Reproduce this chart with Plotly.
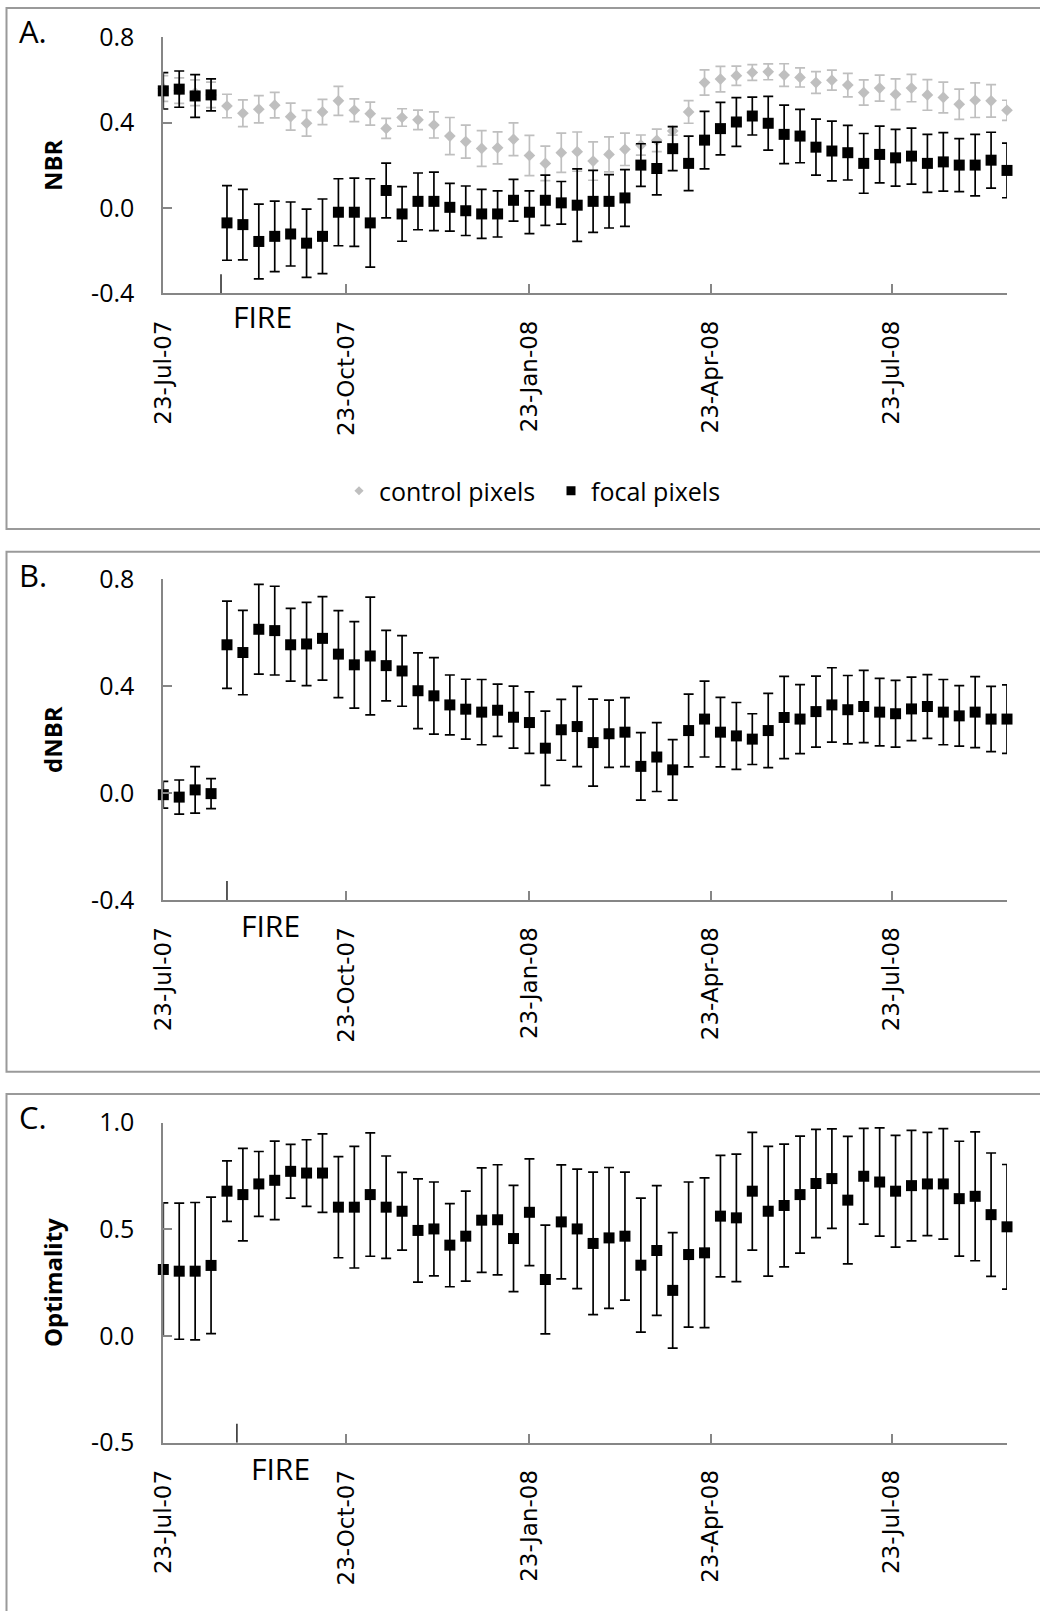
import plotly.graph_objects as go

# ---------------- data ----------------
dates = [
    "2007-07-23", "2007-07-31", "2007-08-08", "2007-08-16", "2007-08-24", "2007-09-01",
    "2007-09-09", "2007-09-17", "2007-09-25", "2007-10-03", "2007-10-11", "2007-10-19",
    "2007-10-27", "2007-11-04", "2007-11-12", "2007-11-20", "2007-11-28", "2007-12-06",
    "2007-12-14", "2007-12-22", "2007-12-30", "2008-01-07", "2008-01-15", "2008-01-23",
    "2008-01-31", "2008-02-08", "2008-02-16", "2008-02-24", "2008-03-03", "2008-03-11",
    "2008-03-19", "2008-03-27", "2008-04-04", "2008-04-12", "2008-04-20", "2008-04-28",
    "2008-05-06", "2008-05-14", "2008-05-22", "2008-05-30", "2008-06-07", "2008-06-15",
    "2008-06-23", "2008-07-01", "2008-07-09", "2008-07-17", "2008-07-25", "2008-08-02",
    "2008-08-10", "2008-08-18", "2008-08-26", "2008-09-03", "2008-09-11", "2008-09-19",
]

tick_dates = ["2007-07-23", "2007-10-23", "2008-01-23", "2008-04-23", "2008-07-23"]
tick_labels = ["23-Jul-07", "23-Oct-07", "23-Jan-08", "23-Apr-08", "23-Jul-08"]

# Panel A: NBR
nbr_control = [0.56, 0.55, 0.54, 0.53, 0.478, 0.444, 0.463, 0.482, 0.428, 0.397, 0.45, 0.502,
               0.458, 0.442, 0.373, 0.424, 0.413, 0.389, 0.337, 0.311, 0.279, 0.282, 0.322, 0.246,
               0.209, 0.259, 0.264, 0.22, 0.251, 0.275, 0.295, 0.317, 0.361, 0.45, 0.588, 0.604,
               0.62, 0.635, 0.638, 0.623, 0.612, 0.588, 0.599, 0.576, 0.541, 0.562, 0.533, 0.562,
               0.53, 0.518, 0.486, 0.505, 0.502, 0.458]
nbr_control_err = [0.06, 0.06, 0.06, 0.06, 0.055, 0.063, 0.064, 0.06, 0.063, 0.06, 0.059, 0.068,
                   0.053, 0.054, 0.047, 0.041, 0.046, 0.061, 0.087, 0.077, 0.084, 0.075, 0.077, 0.094,
                   0.081, 0.092, 0.092, 0.09, 0.082, 0.076, 0.047, 0.053, 0.02, 0.053, 0.059, 0.06,
                   0.045, 0.037, 0.037, 0.053, 0.045, 0.051, 0.047, 0.055, 0.059, 0.061, 0.072, 0.064,
                   0.072, 0.072, 0.071, 0.081, 0.076, 0.047]
nbr_focal = [0.549, 0.557, 0.525, 0.53, -0.07, -0.078, -0.157, -0.133, -0.122, -0.165, -0.133, -0.02,
             -0.02, -0.07, 0.082, -0.028, 0.031, 0.031, 0.003, -0.013, -0.028, -0.028, 0.036, -0.02,
             0.036, 0.024, 0.013, 0.031, 0.031, 0.047, 0.201, 0.185, 0.278, 0.209, 0.318, 0.372,
             0.403, 0.431, 0.397, 0.345, 0.337, 0.285, 0.267, 0.259, 0.209, 0.251, 0.235, 0.243,
             0.209, 0.216, 0.201, 0.201, 0.224, 0.176]
nbr_focal_err = [0.085, 0.085, 0.1, 0.075, 0.175, 0.165, 0.175, 0.165, 0.15, 0.16, 0.175, 0.157,
                 0.16, 0.207, 0.128, 0.128, 0.133, 0.137, 0.112, 0.116, 0.115, 0.108, 0.098, 0.1,
                 0.118, 0.1, 0.17, 0.145, 0.125, 0.133, 0.1, 0.124, 0.103, 0.128, 0.135, 0.123,
                 0.114, 0.089, 0.126, 0.137, 0.125, 0.131, 0.14, 0.128, 0.14, 0.133, 0.133, 0.131,
                 0.136, 0.137, 0.124, 0.144, 0.131, 0.128]

# Panel B: dNBR
dnbr = [-0.006, -0.015, 0.012, -0.002, 0.555, 0.526, 0.613, 0.608, 0.555, 0.558, 0.579, 0.52,
        0.48, 0.513, 0.477, 0.457, 0.383, 0.364, 0.33, 0.314, 0.303, 0.31, 0.284, 0.264,
        0.168, 0.237, 0.249, 0.189, 0.222, 0.228, 0.1, 0.135, 0.087, 0.234, 0.277, 0.228,
        0.214, 0.202, 0.234, 0.283, 0.277, 0.305, 0.33, 0.312, 0.324, 0.303, 0.297, 0.315,
        0.324, 0.303, 0.289, 0.303, 0.277, 0.277]
dnbr_err = [0.05, 0.064, 0.087, 0.056, 0.163, 0.158, 0.168, 0.166, 0.136, 0.156, 0.156, 0.163,
            0.162, 0.22, 0.132, 0.132, 0.142, 0.143, 0.112, 0.112, 0.122, 0.098, 0.116, 0.115,
            0.139, 0.114, 0.15, 0.163, 0.126, 0.129, 0.126, 0.129, 0.113, 0.136, 0.142, 0.13,
            0.125, 0.095, 0.139, 0.154, 0.129, 0.133, 0.139, 0.128, 0.135, 0.126, 0.125, 0.119,
            0.119, 0.122, 0.113, 0.133, 0.122, 0.128]

# Panel C: Optimality
optimality = [0.312, 0.304, 0.304, 0.331, 0.679, 0.663, 0.713, 0.73, 0.772, 0.764, 0.764, 0.604,
              0.604, 0.663, 0.604, 0.585, 0.495, 0.502, 0.426, 0.468, 0.543, 0.545, 0.457, 0.58,
              0.265, 0.535, 0.502, 0.434, 0.46, 0.468, 0.332, 0.401, 0.214, 0.382, 0.39, 0.562,
              0.554, 0.679, 0.585, 0.612, 0.663, 0.715, 0.738, 0.637, 0.749, 0.722, 0.679, 0.705,
              0.713, 0.713, 0.644, 0.655, 0.569, 0.512]
optimality_err = [0.312, 0.319, 0.322, 0.32, 0.142, 0.217, 0.152, 0.184, 0.126, 0.156, 0.184, 0.237,
                  0.285, 0.289, 0.24, 0.182, 0.242, 0.22, 0.195, 0.211, 0.245, 0.258, 0.249, 0.25,
                  0.255, 0.267, 0.28, 0.334, 0.33, 0.3, 0.314, 0.304, 0.271, 0.34, 0.351, 0.285,
                  0.299, 0.276, 0.304, 0.288, 0.274, 0.254, 0.233, 0.299, 0.224, 0.254, 0.262, 0.259,
                  0.242, 0.259, 0.269, 0.302, 0.289, 0.292]

fire_dates = ["2007-08-21", "2007-08-24", "2007-08-29"]
panel_titles = ["NBR", "dNBR", "Optimality"]
panel_letters = ["A.", "B.", "C."]
y_ranges = [[-0.4, 0.8], [-0.4, 0.8], [-0.5, 1.0]]
y_ticks = [[-0.4, 0.0, 0.4, 0.8], [-0.4, 0.0, 0.4, 0.8], [-0.5, 0.0, 0.5, 1.0]]
y_ticklabels = [["-0.4", "0.0", "0.4", "0.8"], ["-0.4", "0.0", "0.4", "0.8"],
                ["-0.5", "0.0", "0.5", "1.0"]]

# ---------------- layout geometry (pixels) ----------------
W, H = 1040, 1611
PLOT_L, PLOT_R = 163.3, 1007.0
plot_tb = [(37.3, 293.3), (579.3, 900.0), (1122.7, 1442.7)]
box_tb = [(8.0, 529.0), (551.7, 1071.7), (1094.0, 1640.0)]
letter_y = [31, 575, 1117]
fire_label = [(262, 316), (270, 926), (280, 1468)]

AXIS_GRAY = "#868686"
CTRL_GRAY = "#bfbfbf"
FONT_CAL = "Open Sans"
FONT_VER = "DejaVu Sans"


def px(x):
    return x / W


def py(y):
    return 1 - y / H


fig = go.Figure()

err_style = dict(type="data", symmetric=True, thickness=1.7, width=5)

# Panel A traces
fig.add_trace(go.Scatter(
    x=dates, y=nbr_control, mode="markers", name="control pixels", showlegend=False,
    marker=dict(symbol="diamond", size=9, color=CTRL_GRAY),
    error_y=dict(array=nbr_control_err, color=CTRL_GRAY, **err_style),
    cliponaxis=False, xaxis="x", yaxis="y"))
fig.add_trace(go.Scatter(
    x=dates, y=nbr_focal, mode="markers", name="focal pixels", showlegend=False,
    marker=dict(symbol="square", size=11, color="black"),
    error_y=dict(array=nbr_focal_err, color="black", **err_style),
    cliponaxis=False, xaxis="x", yaxis="y"))
# legend entries
fig.add_trace(go.Scatter(x=[None], y=[None], mode="markers", name="control pixels",
                         marker=dict(symbol="diamond", size=7, color=CTRL_GRAY),
                         xaxis="x", yaxis="y"))
fig.add_trace(go.Scatter(x=[None], y=[None], mode="markers", name="focal pixels",
                         marker=dict(symbol="square", size=9, color="black"),
                         xaxis="x", yaxis="y"))

# Panel B
fig.add_trace(go.Scatter(
    x=dates, y=dnbr, mode="markers", name="dNBR", showlegend=False,
    marker=dict(symbol="square", size=11, color="black"),
    error_y=dict(array=dnbr_err, color="black", **err_style),
    cliponaxis=False, xaxis="x2", yaxis="y2"))

# Panel C
fig.add_trace(go.Scatter(
    x=dates, y=optimality, mode="markers", name="Optimality", showlegend=False,
    marker=dict(symbol="square", size=11, color="black"),
    error_y=dict(array=optimality_err, color="black", **err_style),
    cliponaxis=False, xaxis="x3", yaxis="y3"))

layout = dict(
    template="none",
    width=W, height=H,
    margin=dict(l=0, r=0, t=0, b=0, autoexpand=False),
    paper_bgcolor="white", plot_bgcolor="rgba(0,0,0,0)",
    font=dict(family=FONT_CAL, color="black"),
    showlegend=True,
    legend=dict(orientation="h", x=px(339), xanchor="left", y=py(491), yanchor="middle",
                font=dict(family=FONT_CAL, size=25, color="black"),
                entrywidth=167, entrywidthmode="pixels",
                bgcolor="rgba(0,0,0,0)", borderwidth=0),
)

shapes = []
annotations = []
for i in range(3):
    sfx = "" if i == 0 else str(i + 1)
    top, bot = plot_tb[i]
    layout["xaxis" + sfx] = dict(
        domain=[px(PLOT_L), px(PLOT_R)], anchor="y" + sfx, type="date",
        range=[dates[0], dates[-1]], automargin=False,
        showline=True, linecolor=AXIS_GRAY, linewidth=2, mirror=False,
        showgrid=False, zeroline=False,
        ticks="inside", ticklen=9, tickwidth=2, tickcolor=AXIS_GRAY,
        tickvals=tick_dates, ticktext=tick_labels, tickangle=-90,
        tickfont=dict(family=FONT_VER, size=23, color="black"),
        ticklabelstandoff=16,
    )
    layout["yaxis" + sfx] = dict(
        domain=[py(bot), py(top)], anchor="x" + sfx, automargin=False,
        range=y_ranges[i], tickvals=y_ticks[i], ticktext=y_ticklabels[i],
        showline=True, linecolor=AXIS_GRAY, linewidth=2,
        showgrid=False, zeroline=False,
        ticks="inside", ticklen=9, tickwidth=2, tickcolor=AXIS_GRAY,
        tickfont=dict(family=FONT_CAL, size=25, color="black"),
        ticklabelstandoff=22,
        title=dict(text="<b>" + panel_titles[i] + "</b>",
                   font=dict(family=FONT_CAL, size=24, color="black"), standoff=22),
    )
    # panel box
    b0, b1 = box_tb[i]
    shapes.append(dict(type="rect", xref="paper", yref="paper",
                       x0=px(6.5), x1=px(1060), y0=py(b1), y1=py(b0),
                       line=dict(color="#9a9a9a", width=2), layer="below"))
    # FIRE tick
    shapes.append(dict(type="line", xref="x" + sfx, yref="y" + sfx,
                       x0=fire_dates[i], x1=fire_dates[i],
                       ysizemode="pixel", yanchor=y_ranges[i][0], y0=0, y1=19,
                       line=dict(color="black", width=1.3)))
    fx, fy = fire_label[i]
    annotations.append(dict(text="FIRE", xref="paper", yref="paper", x=px(fx), y=py(fy),
                            xanchor="center", yanchor="middle", showarrow=False,
                            font=dict(family=FONT_CAL, size=30, color="black")))
    annotations.append(dict(text=panel_letters[i], xref="paper", yref="paper",
                            x=px(17), y=py(letter_y[i]), xanchor="left", yanchor="middle",
                            showarrow=False,
                            font=dict(family=FONT_CAL, size=31, color="black")))

layout["shapes"] = shapes
layout["annotations"] = annotations
fig.update_layout(**layout)

fig.write_html("out.html", config={"displayModeBar": False},
               post_script="document.body.style.margin='0px';")
